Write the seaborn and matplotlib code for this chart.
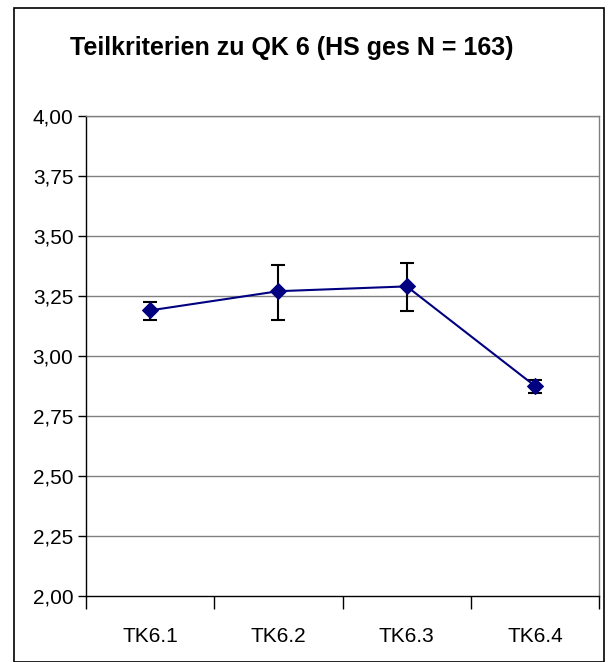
import numpy as np
import pandas as pd
import matplotlib
matplotlib.use("Agg")
import matplotlib.pyplot as plt
import seaborn as sns
from matplotlib.patches import Rectangle
from matplotlib.ticker import FuncFormatter

# Werte
kriterien = ["TK6.1", "TK6.2", "TK6.3", "TK6.4"]
mittelwerte = [3.19, 3.27, 3.29, 2.875]
ci_unten = [3.15, 3.15, 3.186, 2.845]
ci_oben = [3.224, 3.379, 3.389, 2.90]
y_ticks = [2.00, 2.25, 2.50, 2.75, 3.00, 3.25, 3.50, 3.75, 4.00]

df = pd.DataFrame({"pos": np.arange(len(kriterien)), "wert": mittelwerte})

sns.set_style("white")
plt.rcParams["font.family"] = ["Liberation Sans", "DejaVu Sans"]
plt.rcParams["text.color"] = "black"
plt.rcParams["xtick.color"] = "black"
plt.rcParams["ytick.color"] = "black"

fig = plt.figure(figsize=(6.12, 6.62), dpi=100)
ax = fig.add_axes([0.1405, 0.0997, 0.8385, 0.7251])

# Rahmen um das ganze Diagramm
fig.patches.append(Rectangle((14 / 612, 0.0), 590 / 612, 1 - 8 / 662,
                             transform=fig.transFigure, fill=False,
                             edgecolor="black", linewidth=1.2))

# Gitterlinien
for y in y_ticks[1:]:
    ax.axhline(y, color="#808080", linewidth=1.0, zorder=0)

# Fehlerbalken
err = [np.array(mittelwerte) - np.array(ci_unten), np.array(ci_oben) - np.array(mittelwerte)]
ax.errorbar(df["pos"], df["wert"], yerr=err, fmt="none", ecolor="black",
            elinewidth=1.5, capsize=5, capthick=1.5, zorder=2)

sns.lineplot(data=df, x="pos", y="wert", ax=ax, color="#000080", linewidth=1.5,
             marker="D", markersize=8, markeredgecolor="#000080", zorder=3)

ax.set_xlim(-0.5, 3.5)
ax.set_ylim(2.0, 4.0)
ax.set_yticks(y_ticks)
ax.yaxis.set_major_formatter(FuncFormatter(lambda v, p: f"{v:.2f}".replace(".", ",")))
ax.set_xticks(np.arange(-0.5, 4.0, 1.0))
ax.set_xticklabels([])
ax.set_xticks(df["pos"], minor=True)
ax.set_xticklabels(kriterien, minor=True)
ax.tick_params(axis="x", which="major", direction="out", length=9, width=1, color="black", bottom=True)
ax.tick_params(axis="x", which="minor", length=0, pad=22, labelsize=15)
ax.tick_params(axis="y", direction="out", length=6, width=1, color="black", left=True, labelsize=15, pad=3)
ax.set_xlabel("")
ax.set_ylabel("")

ax.spines["left"].set_color("black")
ax.spines["bottom"].set_color("black")
ax.spines["top"].set_color("#808080")
ax.spines["right"].set_color("#808080")
for s in ax.spines.values():
    s.set_linewidth(1.0)

fig.text(292 / 612, 1 - 48 / 662, "Teilkriterien zu QK 6 (HS ges N = 163)",
         ha="center", va="center", fontsize=18, fontweight="bold")

fig.savefig("out.png", dpi=100, facecolor="white")
